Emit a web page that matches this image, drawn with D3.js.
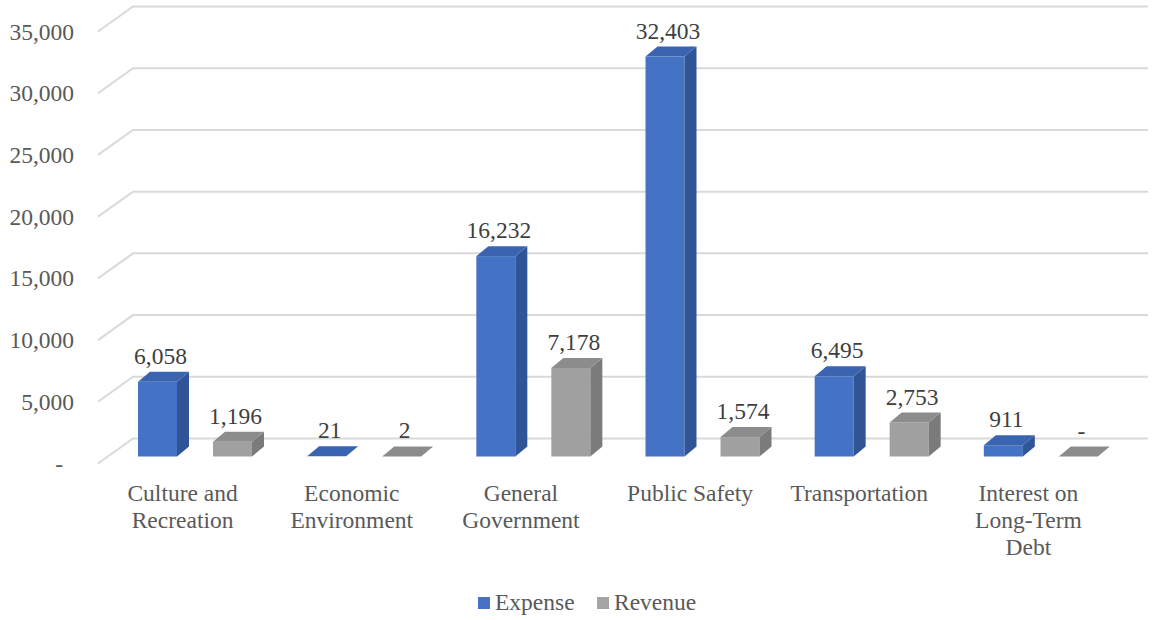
<!DOCTYPE html>
<html>
<head>
<meta charset="utf-8">
<script src="https://cdn.jsdelivr.net/npm/d3@7"></script>
<style>
  html, body { margin: 0; padding: 0; background: #fff; }
  svg { display: block; }
  svg text { font-family: "Liberation Serif", "Times New Roman", Times, Tinos, "Noto Serif", "DejaVu Serif", FreeSerif, serif !important; }
</style>
</head>
<body>
<svg id="chart" width="1154" height="620"></svg>
<script>
// Expense and revenue by governmental function
const categories = [
  ["Culture and", "Recreation"],
  ["Economic", "Environment"],
  ["General", "Government"],
  ["Public Safety"],
  ["Transportation"],
  ["Interest on", "Long-Term", "Debt"]
];
const seriesNames = ["Expense", "Revenue"];
const expense = [6058, 21, 16232, 32403, 6495, 911];
const revenue = [1196, 2, 7178, 1574, 2753, 0];
const yTicks = [0, 5000, 10000, 15000, 20000, 25000, 30000, 35000];

const colors = {
  Expense: { front: "#4472C4", side: "#2F5597", top: "#3A64B0", legend: "#4472C4" },
  Revenue: { front: "#A0A0A0", side: "#7B7B7B", top: "#8C8C8C", legend: "#A5A5A5" }
};

const svg = d3.select("#chart");
const fontSize = 23.5;
const textGray = "#595959";

// Floor front edge and wall depth
const frontLeft = 98, frontRight = 1113;
const wall = { dx: 35, dy: -25 };
// Plane the bars stand on, and the depth of each bar
const barPlane = { dx: 9, dy: -7 };
const barDepth = { dx: 12, dy: -10 };

const y = d3.scaleLinear().domain([0, 35000]).range([463.5, 31.5]);

const x0 = d3.scaleBand()
  .domain(d3.range(categories.length))
  .range([frontLeft, frontRight])
  .paddingInner(0).paddingOuter(0);

const x1 = d3.scaleBand()
  .domain(seriesNames)
  .range([31, 145])
  .paddingInner(0.48).paddingOuter(0);

// Gridlines: diagonal on the side wall, horizontal on the back wall
const grid = svg.append("g").attr("class", "grid");
yTicks.forEach(t => {
  const yf = y(t), yb = y(t) + wall.dy;
  grid.append("path")
    .attr("d", `M${frontLeft},${yf}L${frontLeft + wall.dx},${yb}L${frontRight + wall.dx},${yb}`)
    .attr("fill", "none")
    .attr("stroke", "#D9D9D9")
    .attr("stroke-width", 2);
});

// Value axis labels (accounting style: zero shown as a dash)
const fmt = d3.format(",");
const yAxis = d3.axisLeft(y).tickValues(yTicks).tickSize(0).tickPadding(0)
  .tickFormat(d => d === 0 ? "-" : fmt(d));
const gy = svg.append("g").attr("transform", "translate(74,0)").call(yAxis);
gy.attr("font-family", null);
gy.select(".domain").remove();
gy.selectAll("text")
  .attr("font-size", fontSize)
  .attr("fill", textGray)
  .attr("dy", "0.32em")
  .attr("x", d => d === 0 ? -11 : 0);

// Bars
const rows = [];
categories.forEach((c, i) => {
  seriesNames.forEach((s, j) => {
    const v = (j === 0 ? expense : revenue)[i];
    rows.push({ i, s, v });
  });
});

const bars = svg.append("g").attr("class", "bars")
  .selectAll("g").data(rows).join("g");

bars.each(function(d) {
  const g = d3.select(this);
  const xL = x0(d.i) + barPlane.dx + x1(d.s);
  const w = x1.bandwidth();
  const yBase = y(0) + barPlane.dy;
  const yTop = y(d.v) + barPlane.dy;
  const c = colors[d.s];
  const dx = barDepth.dx, dy = barDepth.dy;
  if (yBase - yTop > 0.5) {
    g.append("rect")
      .attr("x", xL).attr("y", yTop)
      .attr("width", w).attr("height", yBase - yTop)
      .attr("fill", c.front);
    g.append("path")
      .attr("d", `M${xL + w},${yBase}L${xL + w + dx},${yBase + dy}L${xL + w + dx},${yTop + dy}L${xL + w},${yTop}Z`)
      .attr("fill", c.side);
  }
  g.append("path")
    .attr("d", `M${xL},${yTop}L${xL + dx},${yTop + dy}L${xL + w + dx},${yTop + dy}L${xL + w},${yTop}Z`)
    .attr("fill", c.top);
  g.append("text")
    .attr("x", xL + w / 2 + 3)
    .attr("y", yTop - 18)
    .attr("text-anchor", "middle")
    .attr("font-size", fontSize)
    .attr("fill", "#404040")
    .text(d.v === 0 ? "-" : fmt(d.v));
});

// Category labels along the front edge
const cat = svg.append("g").attr("class", "categories")
  .selectAll("text").data(categories).join("text")
  .attr("x", (d, i) => x0(i) + x0.bandwidth() / 2)
  .attr("y", 501)
  .attr("text-anchor", "middle")
  .attr("font-size", fontSize)
  .attr("fill", textGray);
cat.selectAll("tspan").data(d => d).join("tspan")
  .attr("x", function() { return this.parentNode.getAttribute("x"); })
  .attr("dy", (d, k) => k === 0 ? 0 : 27)
  .text(d => d);

// Legend
const legendItems = [
  { name: "Expense", x: 478 },
  { name: "Revenue", x: 597 }
];
const lg = svg.append("g").attr("class", "legend")
  .selectAll("g").data(legendItems).join("g")
  .attr("transform", d => `translate(${d.x},597)`);
lg.append("rect").attr("width", 12).attr("height", 12)
  .attr("fill", d => colors[d.name].legend);
lg.append("text").attr("x", 17).attr("y", 13)
  .attr("font-size", fontSize).attr("fill", textGray)
  .text(d => d.name);
</script>
</body>
</html>
